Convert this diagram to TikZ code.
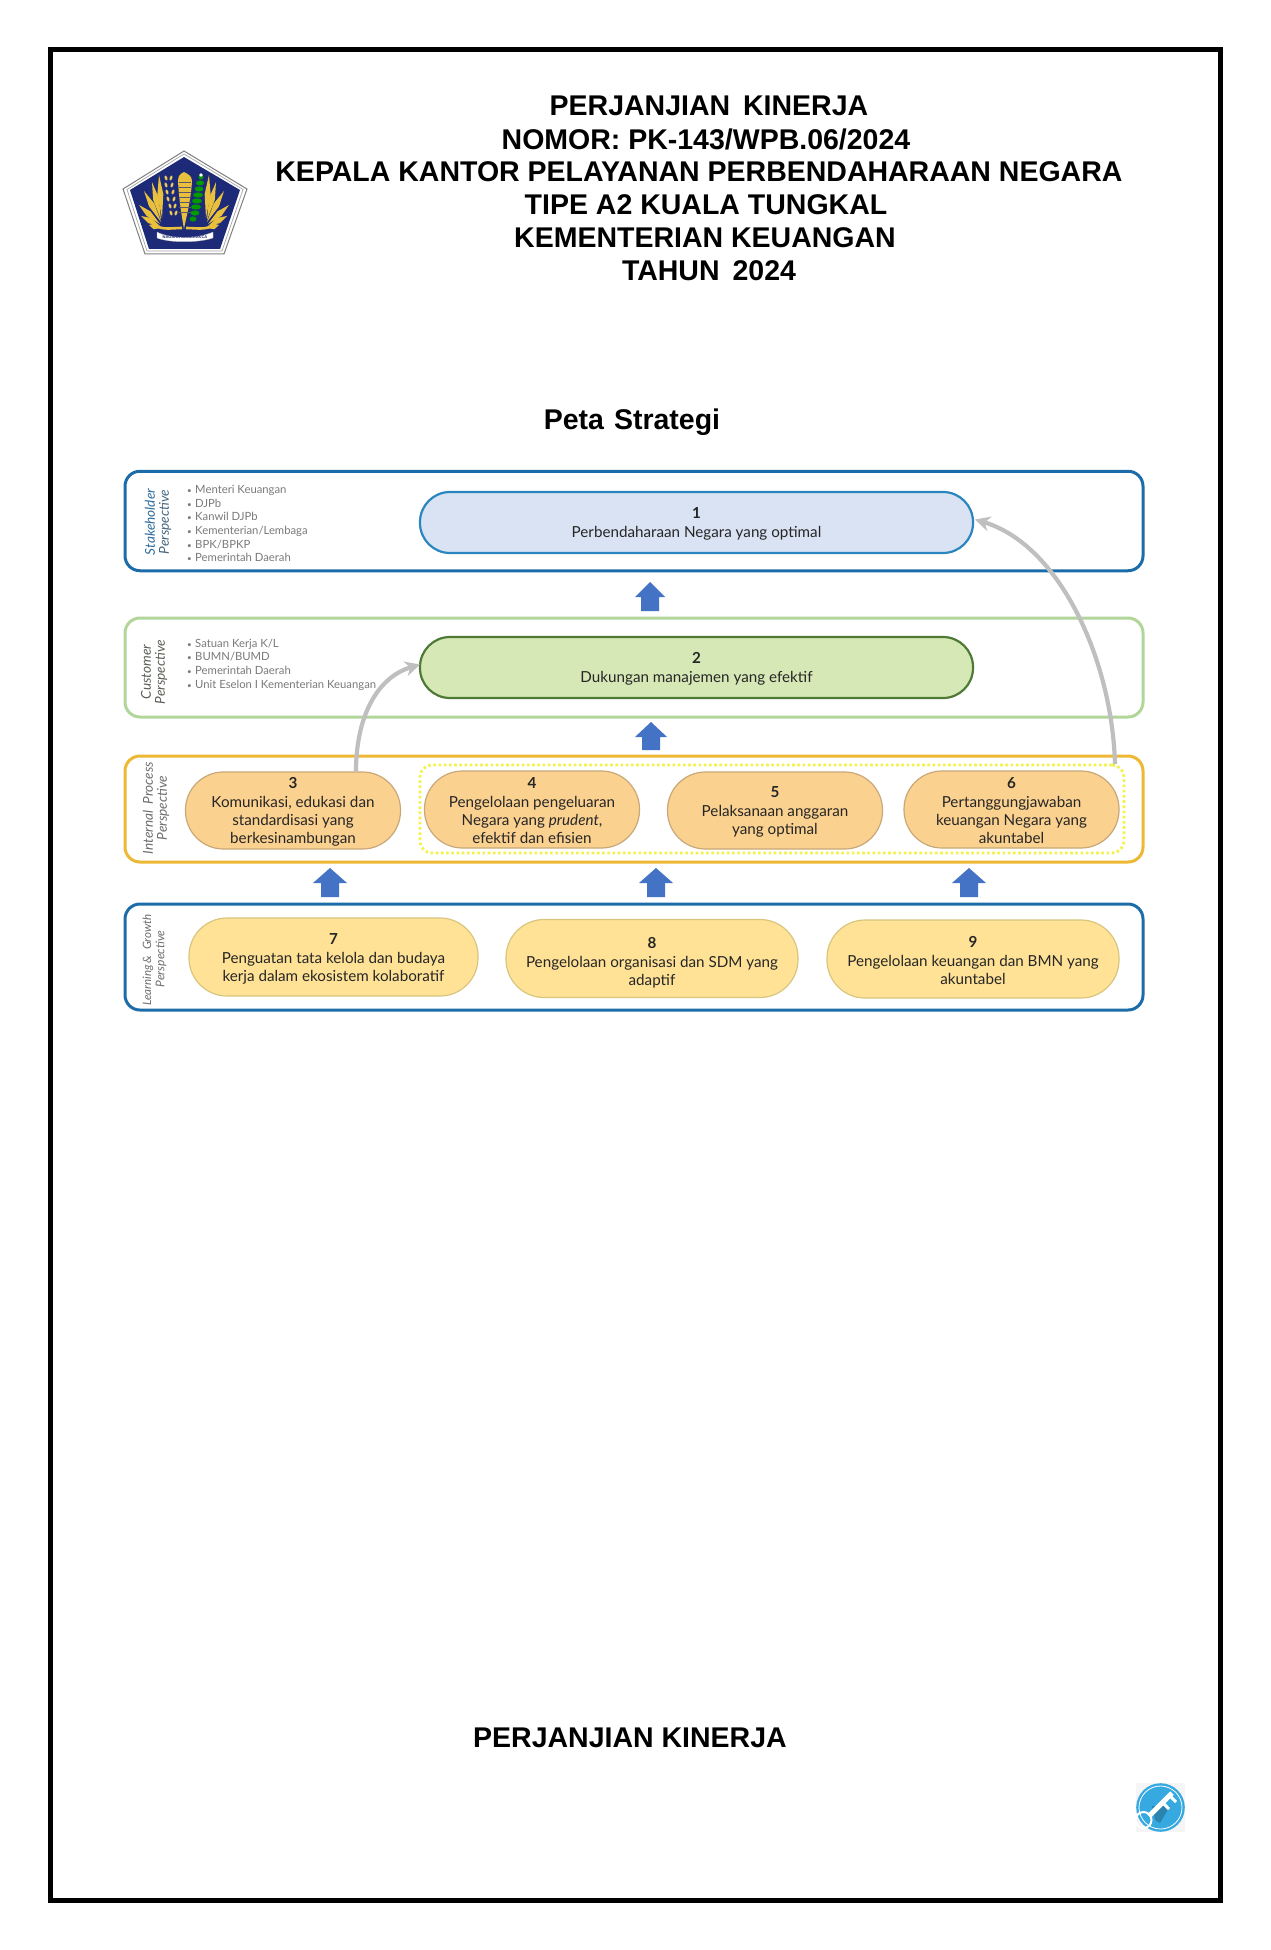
\documentclass[tikz,border=0pt]{standalone}
\usepackage{fontspec}
\setmainfont{Liberation Sans}
\newfontfamily\latofont{Lato}
\usetikzlibrary{arrows.meta,calc}
\definecolor{fblue}{HTML}{1B6CA8}
\definecolor{fgreen}{HTML}{B2D69A}
\definecolor{fgold}{HTML}{EDB834}
\definecolor{pblue}{HTML}{DAE3F3}
\definecolor{pblueb}{HTML}{2A86BE}
\definecolor{pgreen}{HTML}{D6E8B6}
\definecolor{pgreenb}{HTML}{4F7A35}
\definecolor{porange}{HTML}{FBD190}
\definecolor{porangeb}{HTML}{C8A878}
\definecolor{pyellow}{HTML}{FFE296}
\definecolor{pyellowb}{HTML}{D8C67E}
\definecolor{dotyellow}{HTML}{F2F24A}
\definecolor{arrowblue}{HTML}{4472C4}
\definecolor{linkgray}{HTML}{BFBFBF}
\definecolor{listgray}{HTML}{7A7A7A}
\definecolor{pentanavy}{HTML}{1C2A78}
\definecolor{wing}{HTML}{E9BF3E}
\definecolor{keyblue}{HTML}{36A9E1}
\definecolor{labA}{HTML}{2F6C9E}
\definecolor{labB}{HTML}{46667E}
\definecolor{labC}{HTML}{5A6055}
\definecolor{labD}{HTML}{6E6E6E}
\tikzset{
  titleline/.style={font=\fontsize{28.5}{33}\selectfont\bfseries,text=black,inner sep=0pt},
  frame/.style={draw,line width=3pt,rounded corners=15pt,minimum width=1018pt,inner sep=0pt,outer sep=0pt},
  pill/.style={draw,line width=1.2pt,inner sep=0pt,outer sep=0pt,align=center,
     font=\latofont\fontsize{15.2}{18}\selectfont,text=black!85},
  pillwide/.style={pill,rounded corners=30pt,minimum width=553pt,minimum height=61pt},
  pillorange/.style={pill,rounded corners=38pt,fill=porange,draw=porangeb,minimum width=215pt,minimum height=77pt},
  pillyellow/.style={pill,rounded corners=38pt,fill=pyellow,draw=pyellowb,minimum height=78pt},
  sidelabel/.style={rotate=90,inner sep=0pt,font=\latofont\itshape\fontsize{13.6}{15}\selectfont},
  listing/.style={inner sep=0pt,anchor=north west,align=left,text=listgray,font=\latofont\fontsize{11.3}{13.7}\selectfont},
  upblock/.style={fill=arrowblue,draw=none},
  link/.style={draw=linkgray,line width=4.2pt,-{Stealth[length=15pt,width=15pt]}},
}
\newcommand{\blockup}[4]{% cx, top, half head, bottom
  \fill[upblock] (#1,#2) -- ({#1+#3},{#2+15}) -- ({#1+9},{#2+15}) -- ({#1+9},#4) -- ({#1-9},#4) -- ({#1-9},{#2+15}) -- ({#1-#3},{#2+15}) -- cycle;}
\newcommand{\pnum}[1]{\rule{0pt}{14pt}\textbf{#1}\\[1pt]}
\newcommand{\bl}{{\fontsize{8}{8}\selectfont•}\hspace{3.4pt}}
\begin{document}
\begin{tikzpicture}[x=1pt,y=-1pt]
\useasboundingbox (0,0) rectangle (1270,1950);
\fill[white] (0,0) rectangle (1270,1950);
% page border
\draw[black,line width=5pt] (50,50) rectangle (1220,1900);
% titles
\node[titleline] (t1) at (709,106) {PERJANJIAN\hspace{5pt} KINERJA};
\node[titleline] (t2) at (706,139) {NOMOR: PK-143/WPB.06/2024};
\node[titleline] (t3) at (699,172) {KEPALA KANTOR PELAYANAN PERBENDAHARAAN NEGARA};
\node[titleline] (t4) at (706,205) {TIPE A2 KUALA TUNGKAL};
\node[titleline] (t5) at (705,238) {KEMENTERIAN KEUANGAN};
\node[titleline] (t6) at (709,271) {TAHUN\hspace{5pt} 2024};
\node[titleline] (t7) at (632,422) {Peta\hspace{2pt} Strategi};
\node[titleline] (t8) at (630,1738) {PERJANJIAN KINERJA};
% logo
\filldraw[fill=white,draw=gray,line width=1pt,line join=miter] (184,151) -- (247,189) -- (224,254) -- (145,254) -- (123,189) -- cycle;
\draw[gray!70,line width=.7pt] (184,154) -- (243,189.5) -- (222,251) -- (147,251) -- (127,189.5) -- cycle;
\fill[pentanavy] (184,157) -- (240,190) -- (220,249) -- (149,249) -- (130,190) -- cycle;
\foreach \s in {1,-1}{
 \begin{scope}[shift={(184,0)},xscale=\s]
  \foreach \tx/\ty/\bx/\by in {25/175/22/218,32/182/23/220,40/191/23/222,45/205/24/224,43/216/24/226,35/225/23/228}{
    \fill[wing] (\bx,\by) -- ($(\bx,\by)!.55!(\tx,\ty)!3pt!90:(\tx,\ty)$) -- (\tx,\ty) -- ($(\bx,\by)!.55!(\tx,\ty)!3pt!-90:(\tx,\ty)$) -- cycle;}
  \draw[wing,line width=2.6pt] (28,226) .. controls (20,230) and (12,228) .. (2,228);
 \end{scope}}
\fill[wing] (184,172) .. controls (180,174) and (178,176) .. (178,181) .. controls (179,200) and (182,218) .. (184,229) .. controls (186,218) and (191,200) .. (192,181) .. controls (192,176) and (188,174) .. (184,172) -- cycle;
\foreach \yy in {182,187,192,197,202,207,212}
  \draw[pentanavy!70!wing,line width=.6pt] (179,\yy) -- (191,\yy);
\foreach \px/\py/\ang in {166/178/20,171/178/-20,166/185/20,172/185/-20,167/192/20,173/192/-20,168/199/20,174/199/-20,170/206/20,175/206/-20,171/213/20,176/213/-20}
  \fill[wing!85!white] (\px,\py) ellipse[x radius=1.3pt,y radius=2.6pt,rotate=\ang];
\foreach \px/\py/\rx in {201/177/2.5,200/183/4,199/189/4.5,198/195/5,197/201/5,196/207/5,195/213/4.5,193/219/3.5}
  \fill[green!60!black] (\px,\py) ellipse[x radius=\rx pt,y radius=2.6pt];
\fill[white] (201,175) circle (1.8pt);
\filldraw[fill=white,draw=gray!60,line width=.3pt] (157,232) .. controls (170,239) and (198,239) .. (213,232) -- (213,238) .. controls (198,243) and (170,243) .. (157,238) -- cycle;
\node[inner sep=0pt,text=pentanavy,font=\fontsize{4}{5}\selectfont\bfseries] (motto) at (185,237.5) {NAGARA DANARAKCA};
% perspective frames
\node[frame,draw=fblue,minimum height=99.5pt] (f1) at (634,521) {};
\node[frame,draw=fgreen,minimum height=99pt] (f2) at (634,667.5) {};
\node[frame,draw=fgold,minimum height=106pt] (f3) at (634,809) {};
\node[frame,draw=fblue,minimum height=106pt] (f4) at (634,957) {};
% dotted group
\node[draw=dotyellow,line width=2.8pt,dash pattern=on 2.6pt off 2.6pt,rounded corners=12pt,minimum width=704pt,minimum height=88pt,inner sep=0pt] (dots) at (772,809) {};
% side labels
\node[sidelabel,text=labA] (s1a) at (150,522) {Stakeholder};
\node[sidelabel,text=labB] (s1b) at (165,522) {Perspective};
\node[sidelabel,text=labC] (s2a) at (146,672) {Customer};
\node[sidelabel,text=labC] (s2b) at (161,672) {Perspective};
\node[sidelabel,text=labD] (s3a) at (148,808) {Internal\hspace{3pt} Process};
\node[sidelabel,text=labD] (s3b) at (163,808) {Perspective};
\node[sidelabel,text=labD,font=\latofont\itshape\fontsize{11.5}{15}\selectfont] (s4a) at (148,960) {Learning\,\&\hspace{3pt} Growth};
\node[sidelabel,text=labD,font=\latofont\itshape\fontsize{12}{15}\selectfont] (s4b) at (161,959) {Perspective};
% lists
\node[listing] (l1) at (187,485) {\bl Menteri Keuangan\\\bl DJPb\\\bl Kanwil DJPb\\\bl Kementerian/Lembaga\\\bl BPK/BPKP\\\bl Pemerintah Daerah};
\node[listing] (l2) at (187,638.5) {\bl Satuan Kerja K/L\\\bl BUMN/BUMD\\\bl Pemerintah Daerah\\\bl Unit Eselon I Kementerian Keuangan};
% pills
\node[pillwide,fill=pblue,draw=pblueb,line width=2.2pt] (p1) at (696.5,522.5) {\pnum{1}Perbendaharaan Negara yang optimal};
\node[pillwide,fill=pgreen,draw=pgreenb,line width=2.2pt] (p2) at (696.5,667.5) {\pnum{2}Dukungan manajemen yang efektif};
\node[pillorange] (p3) at (293,810.5) {\pnum{3}Komunikasi, edukasi dan\\standardisasi yang\\berkesinambungan};
\node[pillorange] (p4) at (532,809.5) {\pnum{4}Pengelolaan pengeluaran\\Negara yang \textit{prudent},\\efektif dan efisien};
\node[pillorange] (p5) at (775,810.5) {\pnum{5}Pelaksanaan anggaran\\yang optimal};
\node[pillorange] (p6) at (1011.5,809.5) {\pnum{6}Pertanggungjawaban\\keuangan Negara yang\\akuntabel};
\node[pillyellow,minimum width=289pt] (p7) at (333.5,957) {\pnum{7}Penguatan tata kelola dan budaya\\kerja dalam ekosistem kolaboratif};
\node[pillyellow,minimum width=292pt] (p8) at (652,958.5) {\rule{0pt}{20pt}\pnum{8}Pengelolaan organisasi dan SDM yang\\adaptif};
\node[pillyellow,minimum width=292pt] (p9) at (973,959) {\pnum{9}Pengelolaan keuangan dan BMN yang\\akuntabel};
% grey links
\coordinate (s3) at (356,771);
\coordinate (s6) at (1115,764);
\draw[link] (s3) .. controls (356,720) and (375,678) .. ([yshift=3pt]p2.west);
\draw[link] (s6) .. controls (1112,660) and (1060,545) .. ([xshift=2pt,yshift=3pt]p1.east);
% block arrows
\blockup{650}{582}{15}{611}
\blockup{651}{722}{16}{750}
\blockup{330}{868}{17}{897}
\blockup{656}{868}{17}{897}
\blockup{969}{868}{17}{897}
% key icon
\fill[black!4] (1136,1783) rectangle (1185,1832);
\fill[keyblue] (1160.5,1807.5) circle (24.3pt);
\draw[white,line width=.8pt] (1160.5,1807.5) circle (21.5pt);
\fill[keyblue!78!black] (1152,1806) -- (1170,1806) -- (1160,1823) -- (1155,1820) -- cycle;
\draw[white,line width=5pt] (1149,1816) -- (1172,1793);
\draw[white,line width=3pt] (1163,1803) -- (1169,1809);
\draw[white,line width=3pt] (1170,1796) -- (1176,1802);
\draw[white,line width=2pt] (1143.5,1820) circle (8pt);
\end{tikzpicture}
\end{document}
